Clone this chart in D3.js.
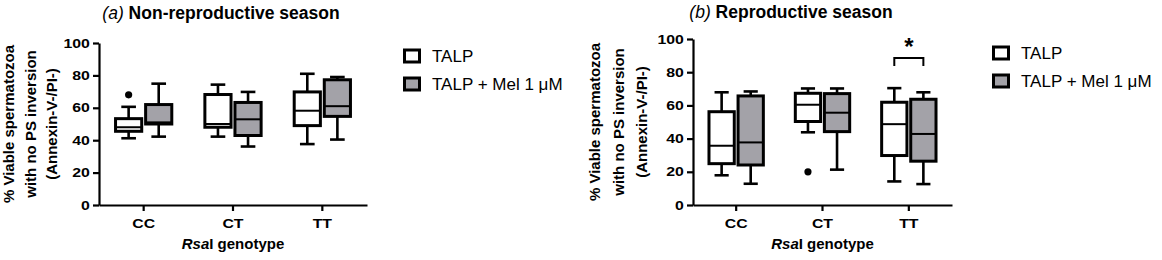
<!DOCTYPE html>
<html>
<head>
<meta charset="utf-8">
<script src="https://cdn.jsdelivr.net/npm/d3@7"></script>
<style>
  body { margin: 0; background: #fff; }
  svg { display: block; font-family: "Liberation Sans", Arial, sans-serif; }
  .axis path, .axis line { stroke: #000; stroke-width: 2.2px; }
  .axis text { font-size: 13px; font-weight: bold; fill: #000; }
</style>
</head>
<body>
<script>
const WIDTH = 1162;
const HEIGHT = 260;

const genotypes = ["CC", "CT", "TT"];
const seriesNames = ["TALP", "TALP + Mel 1 μM"];
const seriesFills = ["#ffffff", "#a3a2a8"];
const yTicks = [0, 20, 40, 60, 80, 100];

// each box: [whisker low, q1, median, q3, whisker high]
const nonReproTALP = [[41.2, 45.5, 48, 53.3, 60.6], [42.2, 48, 50, 68.2, 74.3], [37.6, 49, 58.2, 69.8, 81]];
const nonReproMel = [[42.2, 50, 51, 62, 74.9], [36.1, 42.9, 52.9, 63.3, 69.8], [40.4, 54.7, 61, 77.3, 79]];
const reproTALP = [[17.9, 24.9, 35.7, 56.2, 67.9], [43.8, 50.3, 60.4, 67.3, 70.2], [14.2, 29.8, 48.7, 61.9, 70.4]];
const reproMel = [[12.8, 24.1, 37.7, 65.7, 68.4], [21.3, 44.2, 55.6, 67.1, 70.2], [12.6, 26.4, 42.8, 63.7, 67.9]];

// outliers: [genotype, series index, value]
const nonReproOutliers = [["CC", 0, 68]];
const reproOutliers = [["CT", 0, 20]];

// significance bracket: [genotype, bracket value, label]
const reproSignif = [["TT", 88.5, "*"]];

const TICK_STRETCH = 1.22;

const svg = d3.select("body").append("svg")
  .attr("width", WIDTH)
  .attr("height", HEIGHT);

function drawPanel(cfg) {
  const g = svg.append("g");
  const x = d3.scaleBand().domain(genotypes).range([cfg.left, cfg.right]);
  const y = d3.scaleLinear().domain([0, 100]).range([cfg.bottom, cfg.top]);
  const inner = d3.scaleBand().domain([0, 1]).range([0, x.bandwidth()]).paddingInner(0.13).paddingOuter(0.55);

  // title
  const title = g.append("text")
    .attr("x", cfg.titleX)
    .attr("y", cfg.titleY)
    .attr("text-anchor", "middle")
    .style("font-size", "17.5px");
  title.append("tspan").style("font-style", "italic").text(cfg.letter);
  title.append("tspan").style("font-weight", "bold").text(" " + cfg.title);

  // boxes
  [cfg.talp, cfg.mel].forEach((boxes, s) => {
    boxes.forEach((b, i) => {
      const bx = x(genotypes[i]) + inner(s);
      const bw = inner.bandwidth();
      const cx = bx + bw / 2;
      const cap = bw * 0.28;
      const bg = g.append("g").attr("stroke", "#000").attr("stroke-width", 2.6);
      bg.append("line").attr("x1", cx).attr("x2", cx).attr("y1", y(b[0])).attr("y2", y(b[1]));
      bg.append("line").attr("x1", cx).attr("x2", cx).attr("y1", y(b[3])).attr("y2", y(b[4]));
      bg.append("line").attr("x1", cx - cap).attr("x2", cx + cap).attr("y1", y(b[0])).attr("y2", y(b[0]));
      bg.append("line").attr("x1", cx - cap).attr("x2", cx + cap).attr("y1", y(b[4])).attr("y2", y(b[4]));
      bg.append("rect")
        .attr("x", bx).attr("width", bw)
        .attr("y", y(b[3])).attr("height", y(b[1]) - y(b[3]))
        .attr("fill", seriesFills[s])
        .attr("stroke-width", 3);
      bg.append("line").attr("x1", bx).attr("x2", bx + bw).attr("y1", y(b[2])).attr("y2", y(b[2]))
        .attr("stroke-width", 2);
    });
  });

  cfg.outliers.forEach(([gt, s, v]) => {
    g.append("circle")
      .attr("cx", x(gt) + inner(s) + inner.bandwidth() / 2)
      .attr("cy", y(v))
      .attr("r", 3.6)
      .attr("fill", "#000");
  });

  cfg.signif.forEach(([gt, v, label]) => {
    const x1 = x(gt) + inner(0) + inner.bandwidth() / 2;
    const x2 = x(gt) + inner(1) + inner.bandwidth() / 2;
    const yTop = y(v);
    g.append("path")
      .attr("d", `M${x1},${yTop + 8}V${yTop}H${x2}V${yTop + 8}`)
      .attr("fill", "none")
      .attr("stroke", "#000")
      .attr("stroke-width", 2);
    g.append("text")
      .attr("x", (x1 + x2) / 2)
      .attr("y", yTop - 3)
      .attr("text-anchor", "middle")
      .style("font-size", "24px")
      .style("font-weight", "bold")
      .text(label);
  });

  // axes
  const yAxis = g.append("g")
    .attr("class", "axis")
    .attr("transform", `translate(${cfg.left},0)`)
    .call(d3.axisLeft(y).tickValues(yTicks).tickSize(6).tickSizeOuter(0).tickPadding(1.5));
  yAxis.selectAll(".tick text").attr("transform", `scale(${TICK_STRETCH},1)`);
  const xAxis = g.append("g")
    .attr("class", "axis")
    .attr("transform", `translate(0,${cfg.bottom})`)
    .call(d3.axisBottom(x).tickSize(6).tickSizeOuter(0).tickPadding(7.5));
  xAxis.selectAll(".tick text").attr("transform", `scale(${TICK_STRETCH},1)`);

  // axis titles
  const yLines = ["% Viable spermatozoa", "with no PS inversion", "(Annexin-V-/PI-)"];
  yLines.forEach((t, i) => {
    g.append("text")
      .attr("transform", `translate(${cfg.left - cfg.yTitleOffsets[i]},${(cfg.top + cfg.bottom) / 2}) rotate(-90)`)
      .attr("text-anchor", "middle")
      .style("font-size", "15px")
      .style("font-weight", "bold")
      .text(t);
  });
  const xt = g.append("text")
    .attr("x", (cfg.left + cfg.right) / 2)
    .attr("y", cfg.bottom + 44)
    .attr("text-anchor", "middle")
    .style("font-size", "15px")
    .style("font-weight", "bold");
  xt.append("tspan").style("font-style", "italic").text("Rsa");
  xt.append("tspan").text("I genotype");

  // legend
  seriesNames.forEach((name, s) => {
    const ly = cfg.legendY + s * 28;
    g.append("rect")
      .attr("x", cfg.legendX + 1.5).attr("y", ly - 6)
      .attr("width", 15).attr("height", 12)
      .attr("fill", seriesFills[s])
      .attr("stroke", "#000")
      .attr("stroke-width", 3);
    g.append("text")
      .attr("x", cfg.legendX + 29)
      .attr("y", ly)
      .attr("dy", "0.36em")
      .style("font-size", "17px")
      .text(name);
  });
}

drawPanel({
  letter: "(a)", title: "Non-reproductive season", titleX: 221, titleY: 19,
  left: 99, right: 367, top: 43, bottom: 205,
  talp: nonReproTALP, mel: nonReproMel,
  outliers: nonReproOutliers, signif: [],
  yTitleOffsets: [85, 63, 42],
  legendX: 403, legendY: 56
});

drawPanel({
  letter: "(b)", title: "Reproductive season", titleX: 791, titleY: 18,
  left: 693, right: 952, top: 39, bottom: 205,
  talp: reproTALP, mel: reproMel,
  outliers: reproOutliers, signif: reproSignif,
  yTitleOffsets: [93, 69, 46],
  legendX: 992, legendY: 53
});
</script>
</body>
</html>
